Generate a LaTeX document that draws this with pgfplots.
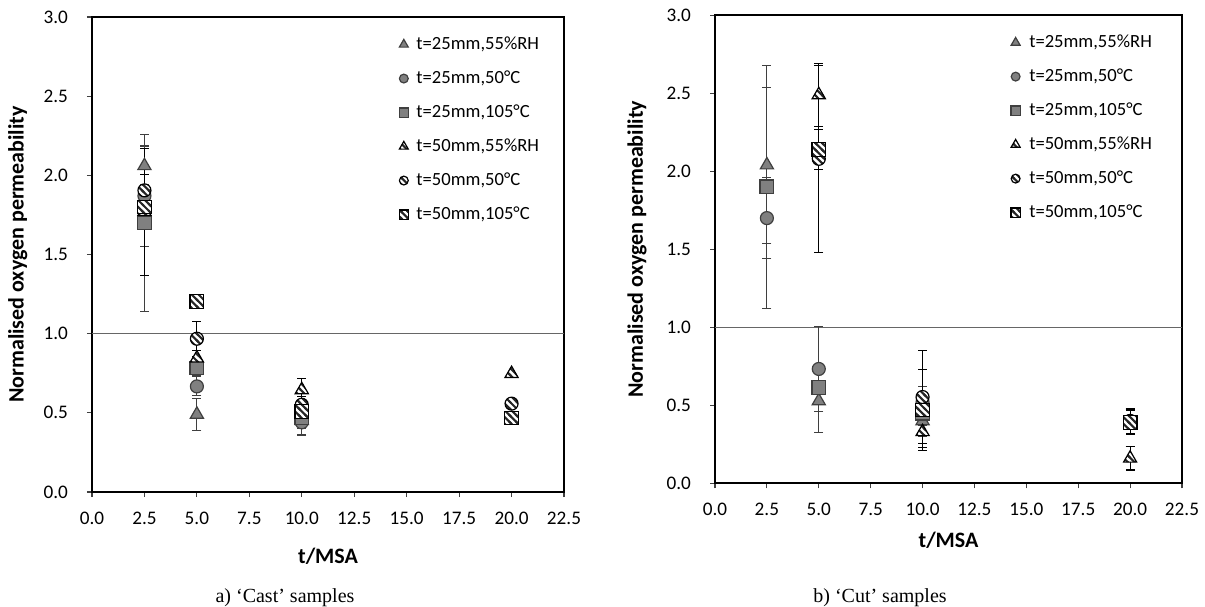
\documentclass[border=0pt]{standalone}
\usepackage{pgfplots}
\pgfplotsset{compat=1.18}
\usepackage{fontspec}
\setmainfont{Carlito}
\newfontfamily\timesfont{Liberation Serif}
\usetikzlibrary{patterns}
\definecolor{mfill}{HTML}{808080}
\definecolor{mdraw}{HTML}{3F3F3F}

\pgfdeclarepatternformonly{stripes}{\pgfqpoint{-1pt}{-1pt}}{\pgfqpoint{4.4pt}{4.4pt}}{\pgfqpoint{3.4pt}{3.4pt}}{%
  \pgfsetlinewidth{1.05pt}%
  \pgfpathmoveto{\pgfqpoint{-0.6pt}{4pt}}%
  \pgfpathlineto{\pgfqpoint{4pt}{-0.6pt}}%
  \pgfusepath{stroke}%
}
\pgfdeclareplotmark{hcirc}{%
  \pgfpathcircle{\pgfpointorigin}{\pgfplotmarksize}%
  \pgfsetfillcolor{white}\pgfusepathqfill
  \pgfpathcircle{\pgfpointorigin}{\pgfplotmarksize}%
  \pgfsetfillpattern{stripes}{black!85}\pgfusepathqfill
  \pgfpathcircle{\pgfpointorigin}{\pgfplotmarksize}%
  \pgfusepathqstroke
}
\pgfdeclareplotmark{hsq}{%
  \pgfpathrectanglecorners{\pgfpoint{-\pgfplotmarksize}{-\pgfplotmarksize}}{\pgfpoint{\pgfplotmarksize}{\pgfplotmarksize}}%
  \pgfsetfillcolor{white}\pgfusepathqfill
  \pgfpathrectanglecorners{\pgfpoint{-\pgfplotmarksize}{-\pgfplotmarksize}}{\pgfpoint{\pgfplotmarksize}{\pgfplotmarksize}}%
  \pgfsetfillpattern{stripes}{black!85}\pgfusepathqfill
  \pgfpathrectanglecorners{\pgfpoint{-\pgfplotmarksize}{-\pgfplotmarksize}}{\pgfpoint{\pgfplotmarksize}{\pgfplotmarksize}}%
  \pgfusepathqstroke
}
\pgfdeclareplotmark{htri}{%
  \pgfpathmoveto{\pgfqpointpolar{90}{\pgfplotmarksize}}%
  \pgfpathlineto{\pgfqpointpolar{210}{\pgfplotmarksize}}%
  \pgfpathlineto{\pgfqpointpolar{-30}{\pgfplotmarksize}}%
  \pgfpathclose
  \pgfsetfillcolor{white}\pgfusepathqfill
  \pgfpathmoveto{\pgfqpointpolar{90}{\pgfplotmarksize}}%
  \pgfpathlineto{\pgfqpointpolar{210}{\pgfplotmarksize}}%
  \pgfpathlineto{\pgfqpointpolar{-30}{\pgfplotmarksize}}%
  \pgfpathclose
  \pgfsetfillpattern{stripes}{black!85}\pgfusepathqfill
  \pgfpathmoveto{\pgfqpointpolar{90}{\pgfplotmarksize}}%
  \pgfpathlineto{\pgfqpointpolar{210}{\pgfplotmarksize}}%
  \pgfpathlineto{\pgfqpointpolar{-30}{\pgfplotmarksize}}%
  \pgfpathclose
  \pgfusepathqstroke
}

\pgfplotsset{
  common/.style={
    scale only axis,
    xmin=0, xmax=22.5, ymin=0, ymax=3,
    xtick={0,2.5,...,22.5}, ytick={0,0.5,...,3},
    tick pos=left, tick align=outside, major tick length=2.5pt,
    tick style={color=black!75, line width=0.6pt},
    axis line style={line width=0.9pt, black},
    /pgf/number format/assume math mode=true,
    /pgf/number format/fixed,
    /pgf/number format/fixed zerofill,
    /pgf/number format/precision=1,
    ticklabel style={font=\fontsize{9.6}{11}\selectfont},
    xticklabel style={yshift=-4pt},
    yticklabel style={xshift=-6pt},
    label style={font=\bfseries\fontsize{11}{13}\selectfont},
    xlabel={t/MSA}, ylabel={Normalised oxygen permeability},
    legend style={anchor=north west, draw=none, fill=none, inner sep=0pt,
      font=\fontsize{9.3}{11}\selectfont, row sep=6pt,
      nodes={inner sep=1pt, text height=7pt, text depth=2pt}},
    legend cell align=left,
    legend image code/.code={\draw[#1, every mark/.append style={scale=0.68}] plot coordinates {(0pt,0pt)};},
  },
  eb/.style={error bars/.cd, y dir=both, y explicit,
     error bar style={color=#1, line width=0.55pt},
     error mark options={rotate=90, mark size=2.2pt, line width=0.55pt, color=#1}},
  ftri/.style={only marks, mark=triangle*, mark size=3.8pt, mark options={fill=mfill, draw=mdraw, line width=0.6pt}, eb=mdraw},
  fcirc/.style={only marks, mark=*, mark size=3.25pt, mark options={fill=mfill, draw=mdraw, line width=0.6pt}, eb=mdraw},
  fsq/.style={only marks, mark=square*, mark size=3.4pt, mark options={fill=mfill, draw=mdraw, line width=0.6pt}, eb=mdraw},
  htr/.style={only marks, mark=htri, mark size=3.8pt, mark options={draw=black, line width=0.6pt}, eb=black},
  hci/.style={only marks, mark=hcirc, mark size=3.25pt, mark options={draw=black, line width=0.6pt}, eb=black},
  hsqs/.style={only marks, mark=hsq, mark size=3.4pt, mark options={draw=black, line width=0.6pt}, eb=black},
}

\begin{document}
\begin{tikzpicture}
\path[use as bounding box] (0,0) rectangle (602.5pt,303pt);

% ---------- a) Cast ----------
\begin{axis}[common, at={(46pt,57pt)}, anchor=south west, width=236pt, height=237.5pt,
  xlabel style={at={(axis description cs:0.5,-0.1345)}, anchor=center},
  ylabel style={at={(axis description cs:-0.157,0.5)}, anchor=center},
  legend style={at={(rel axis cs:0.65,0.966)}, /tikz/every odd column/.append style={column sep=3pt}}]
\addplot[color=black!60, line width=0.7pt, forget plot] coordinates {(0,1) (22.5,1)};
\addplot[ftri] coordinates {(2.5,2.06) +- (0,0.12) (5,0.49) +- (0,0.10) (10,0.45) +- (0,0.05)};
\addlegendentry{t=25mm,55\%RH}
\addplot[fcirc] coordinates {(2.5,1.87) +- (0,0.32) (5,0.667) +- (0,0.06) (10,0.44) +- (0,0.08)};
\addlegendentry{t=25mm,50°C}
\addplot[fsq] coordinates {(2.5,1.70) +- (0,0.56) (5,0.783) +- (0,0.05) (10,0.47) +- (0,0.05)};
\addlegendentry{t=25mm,105°C}
\addplot[htr] coordinates {(2.5,1.77) +- (0,0.40) (5,0.845) +- (0,0.05) (10,0.645) +- (0,0.07) (20,0.747) +- (0,0)};
\addlegendentry{t=50mm,55\%RH}
\addplot[hci] coordinates {(2.5,1.905) +- (0,0.10) (5,0.968) +- (0,0.11) (10,0.551) +- (0,0.05) (20,0.558) +- (0,0)};
\addlegendentry{t=50mm,50°C}
\addplot[hsqs] coordinates {(2.5,1.80) +- (0,0.10) (5,1.204) +- (0,0.035) (10,0.509) +- (0,0.05) (20,0.467) +- (0,0)};
\addlegendentry{t=50mm,105°C}
\end{axis}

% ---------- b) Cut ----------
\begin{axis}[common, at={(357.5pt,61.35pt)}, anchor=south west, width=233.5pt, height=234pt,
  xlabel style={at={(axis description cs:0.5,-0.122)}, anchor=center},
  ylabel style={at={(axis description cs:-0.167,0.5)}, anchor=center},
  legend style={at={(rel axis cs:0.633,0.966)}, /tikz/every odd column/.append style={column sep=3.5pt}}]
\addplot[color=black!60, line width=0.7pt, forget plot] coordinates {(0,1) (22.5,1)};
\addplot[ftri] coordinates {(2.5,2.04) +- (0,0.50) (5,0.528) +- (0,0.20) (10,0.40) +- (0,0.10)};
\addlegendentry{t=25mm,55\%RH}
\addplot[fcirc] coordinates {(2.5,1.70) +- (0,0.26) (5,0.733) +- (0,0.27) (10,0.52) +- (0,0.10)};
\addlegendentry{t=25mm,50°C}
\addplot[fsq] coordinates {(2.5,1.90) +- (0,0.78) (5,0.613) +- (0,0.15) (10,0.45) +- (0,0.08)};
\addlegendentry{t=25mm,105°C}
\addplot[htr] coordinates {(5,2.49) +- (0,0.20) (10,0.33) +- (0,0.10) (20,0.16) +- (0,0.075)};
\addlegendentry{t=50mm,55\%RH}
\addplot[hci] coordinates {(5,2.08) +- (0,0.60) (10,0.553) +- (0,0.30) (20,0.40) +- (0,0.08)};
\addlegendentry{t=50mm,50°C}
\addplot[hsqs] coordinates {(5,2.14) +- (0,0.13) (10,0.47) +- (0,0.26) (20,0.39) +- (0,0.08)};
\addlegendentry{t=50mm,105°C}
\end{axis}

\node[font=\timesfont\fontsize{10}{12}\selectfont] at (142.5pt,4pt) {a) ‘Cast’ samples};
\node[font=\timesfont\fontsize{10}{12}\selectfont] at (440pt,4pt) {b) ‘Cut’ samples};
\end{tikzpicture}
\end{document}
